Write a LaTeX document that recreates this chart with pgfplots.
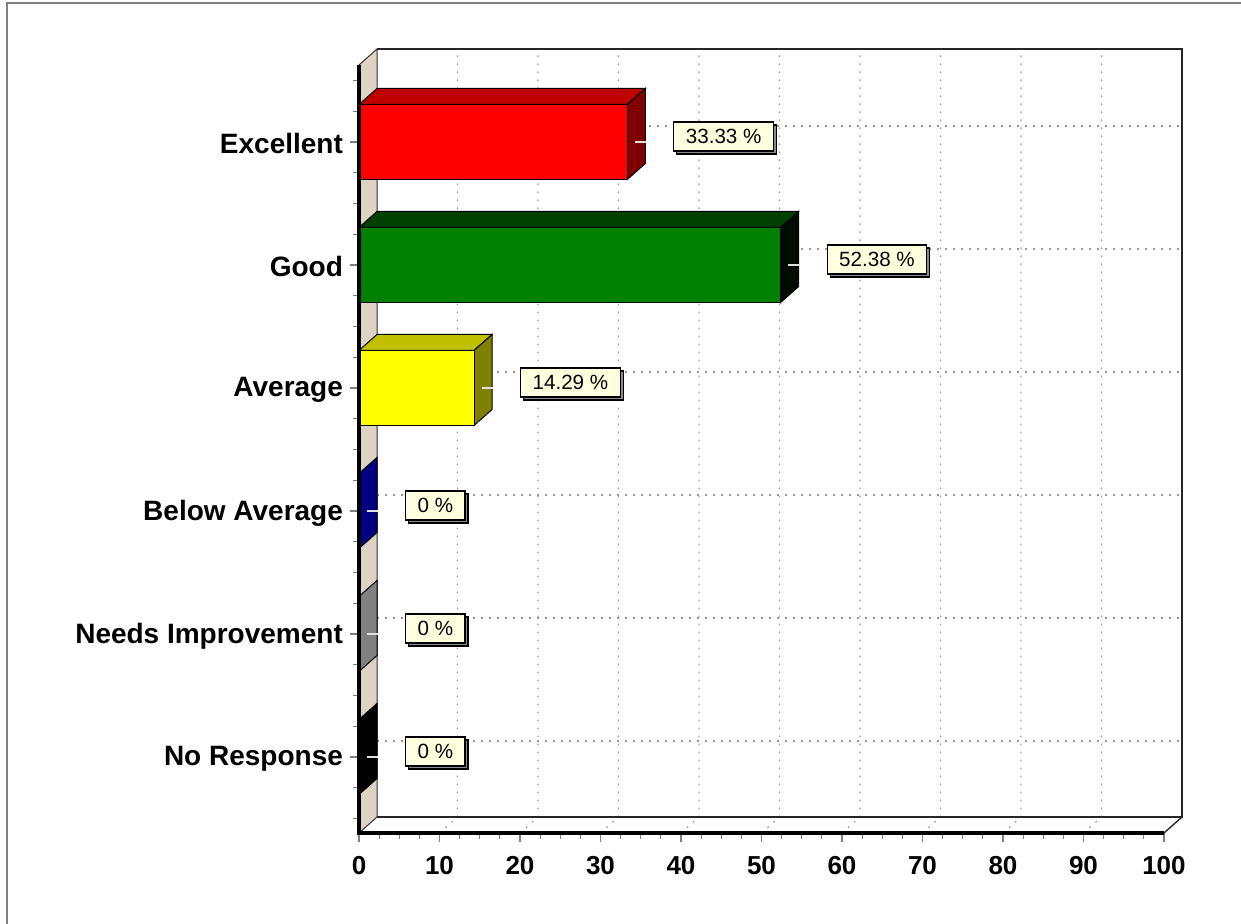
\documentclass[border=0pt]{standalone}
\usepackage{pgfplots}
\pgfplotsset{compat=1.18}
\usepackage{fontspec}
\setmainfont{Liberation Sans}
\usetikzlibrary{shadows}

\definecolor{wallc}{RGB}{221,211,194}
\definecolor{gridc}{RGB}{150,150,150}
\definecolor{lblfill}{RGB}{255,255,224}
\definecolor{exF}{RGB}{255,0,0}
\definecolor{exT}{RGB}{192,0,0}
\definecolor{exS}{RGB}{128,0,0}
\definecolor{goF}{RGB}{0,128,0}
\definecolor{goT}{RGB}{0,64,0}
\definecolor{goS}{RGB}{0,12,0}
\definecolor{avF}{RGB}{255,255,0}
\definecolor{avT}{RGB}{192,192,0}
\definecolor{avS}{RGB}{128,128,0}
\definecolor{baS}{RGB}{0,0,128}
\definecolor{niS}{RGB}{128,128,128}
\definecolor{nrS}{RGB}{0,0,0}

\pgfplotsset{
  vbar/.style={xbar, fill=#1, draw=black, line width=0.5pt, point meta=x,
     nodes near coords={\pgfmathprintnumber[fixed,precision=2]{\pgfplotspointmeta}\ \%},
     every node near coord/.append style={anchor=west, xshift=23pt, yshift=2.75pt,
       fill=lblfill, draw=black, line width=0.6pt, text=black,
       font=\fontsize{10.3}{12}\selectfont,
       inner xsep=6pt, inner ysep=3pt, minimum height=14.5pt,
       drop shadow={shadow xshift=1.5pt, shadow yshift=-1.5pt, fill=gray!90, opacity=1}}},
  face/.style={fill=#1, draw=black, line width=0.5pt, mark=none},
  gridl/.style={gridc, line width=0.6pt, dash pattern=on 0.8pt off 3.2pt, unbounded coords=jump, mark=none},
}

\begin{document}
\begin{tikzpicture}
\path[use as bounding box] (-179.5pt,-45.5pt) rectangle (441pt,416.5pt);
\draw[gray, line width=1pt] (-176pt,-60pt) -- (-176pt,415pt) -- (460pt,415pt);
\begin{axis}[
  at={(0pt,0pt)}, anchor=south west,
  scale only axis, width=411.5pt, height=392pt,
  xmin=0, xmax=102.24, ymin=-0.618, ymax=5.756,
  axis lines*=left, axis line style={draw=none},
  clip=false,
  xtick={0,10,...,100}, minor xtick={0,2.5,...,100},
  ytick={0,1,2,3,4,5},
  yticklabels={No Response, Needs Improvement, Below Average, Average, Good, Excellent},
  minor ytick={-0.5,-0.25,...,5.5},
  tick align=outside, major tick length=4.5pt, minor tick length=3pt,
  tick style={gray, line width=0.6pt},
  xticklabel style={font=\fontsize{13}{13}\selectfont\bfseries, yshift=-3.5pt},
  yticklabel style={font=\fontsize{14}{14}\selectfont\bfseries, yshift=-1pt},
  /pgf/number format/assume math mode=true,
  bar width=0.61, bar shift=0pt,
]
% grid: floor and back wall verticals
\addplot[gridl] coordinates {
(10,-0.618)(12.24,-0.488)(12.24,5.756) (nan,nan)
(20,-0.618)(22.24,-0.488)(22.24,5.756) (nan,nan)
(30,-0.618)(32.24,-0.488)(32.24,5.756) (nan,nan)
(40,-0.618)(42.24,-0.488)(42.24,5.756) (nan,nan)
(50,-0.618)(52.24,-0.488)(52.24,5.756) (nan,nan)
(60,-0.618)(62.24,-0.488)(62.24,5.756) (nan,nan)
(70,-0.618)(72.24,-0.488)(72.24,5.756) (nan,nan)
(80,-0.618)(82.24,-0.488)(82.24,5.756) (nan,nan)
(90,-0.618)(92.24,-0.488)(92.24,5.756)
};
% grid: back wall horizontals
\addplot[gridl] coordinates {
(2.24,0.13)(102.24,0.13) (nan,nan)
(2.24,1.13)(102.24,1.13) (nan,nan)
(2.24,2.13)(102.24,2.13) (nan,nan)
(2.24,3.13)(102.24,3.13) (nan,nan)
(2.24,4.13)(102.24,4.13) (nan,nan)
(2.24,5.13)(102.24,5.13)
};
% left wall
\addplot[fill=wallc, draw=black!80, line width=0.5pt, mark=none] coordinates {
(0,-0.618)(2.24,-0.488)(2.24,5.756)(0,5.626)} -- cycle;
% back frame and floor edges
\addplot[black!85, line width=0.7pt, mark=none] coordinates {
(2.24,-0.488)(102.24,-0.488)(102.24,5.756)(2.24,5.756)};
\addplot[black!85, line width=0.7pt, mark=none] coordinates {
(100,-0.618)(102.24,-0.488)};

% Excellent (33.33)
\addplot[face=exT] coordinates {(0,5.305)(33.33,5.305)(35.57,5.435)(2.24,5.435)} -- cycle;
\addplot[face=exS] coordinates {(33.33,4.695)(35.57,4.825)(35.57,5.435)(33.33,5.305)} -- cycle;
\addplot[vbar=exF] coordinates {(33.33,5)};
% Good (52.38)
\addplot[face=goT] coordinates {(0,4.305)(52.38,4.305)(54.62,4.435)(2.24,4.435)} -- cycle;
\addplot[face=goS] coordinates {(52.38,3.695)(54.62,3.825)(54.62,4.435)(52.38,4.305)} -- cycle;
\addplot[vbar=goF] coordinates {(52.38,4)};
% Average (14.29)
\addplot[face=avT] coordinates {(0,3.305)(14.29,3.305)(16.53,3.435)(2.24,3.435)} -- cycle;
\addplot[face=avS] coordinates {(14.29,2.695)(16.53,2.825)(16.53,3.435)(14.29,3.305)} -- cycle;
\addplot[vbar=avF] coordinates {(14.29,3)};
% Below Average (0)
\addplot[face=baS] coordinates {(0,1.695)(2.24,1.825)(2.24,2.435)(0,2.305)} -- cycle;
\addplot[vbar=baS] coordinates {(0,2)};
% Needs Improvement (0)
\addplot[face=niS] coordinates {(0,0.695)(2.24,0.825)(2.24,1.435)(0,1.305)} -- cycle;
\addplot[vbar=niS] coordinates {(0,1)};
% No Response (0)
\addplot[face=nrS] coordinates {(0,-0.305)(2.24,-0.175)(2.24,0.435)(0,0.305)} -- cycle;
\addplot[vbar=nrS] coordinates {(0,0)};

% leader lines
\addplot[white!88!black, line width=0.7pt, unbounded coords=jump, mark=none] coordinates {
(34.28,5)(35.63,5) (nan,nan)
(53.33,4)(54.68,4) (nan,nan)
(15.24,3)(16.59,3) (nan,nan)
(0.95,2)(2.3,2) (nan,nan)
(0.95,1)(2.3,1) (nan,nan)
(0.95,0)(2.3,0)
};
% thick front axis lines
\addplot[black, line width=2pt, mark=none] coordinates {
(0,5.626)(0,-0.618)(100,-0.618)};
\end{axis}
\end{tikzpicture}
\end{document}
